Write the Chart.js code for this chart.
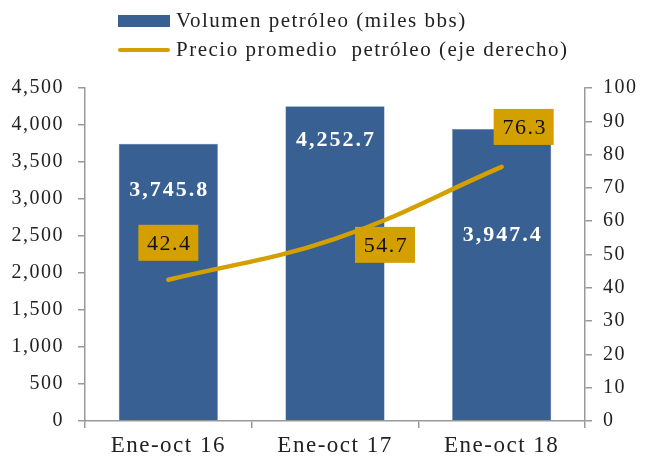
<!DOCTYPE html>
<html>
<head>
<meta charset="utf-8">
<script src="https://cdn.jsdelivr.net/npm/chart.js@4.4.1/dist/chart.umd.min.js"></script>
<style>
    html, body { margin: 0; padding: 0; background: #fff; }
    #wrap { position: relative; width: 650px; height: 461px; }
    #legend { position: absolute; left: 118px; top: 6px; font-family: 'Liberation Serif', serif; font-size: 21px; letter-spacing: 1.5px; color: #222; }
    .row { display: flex; align-items: center; height: 29px; }
    .swatch { width: 52px; margin-right: 6px; }
    .txt { white-space: pre; }
</style>
</head>
<body>
<div id="wrap">
    <canvas id="chart" width="650" height="461"></canvas>
    <div id="legend"></div>
</div>
<script>
const categories = ['Ene-oct 16', 'Ene-oct 17', 'Ene-oct 18'];
const volumen = [3745.8, 4252.7, 3947.4];
const precio = [42.4, 54.7, 76.3];
const volumenLabel = 'Volumen petróleo (miles bbs)';
const precioLabel = 'Precio promedio  petróleo (eje derecho)';

const BLUE = '#386092';
const GOLD = '#D4A000';
const FONT = "'Liberation Serif', serif";

// label offsets from the bar top / line point
const barLabelDy = [47, 34, 106];
const lineLabelOffset = [[0, -37], [50, 6], [22, -40]];

const fmt = (v, d) => v.toLocaleString('en-US', { minimumFractionDigits: d, maximumFractionDigits: d });

// Garamond in the original runs wider than Liberation Serif
const spacing = {
    id: 'spacing',
    beforeDraw: (chart) => { chart.ctx.letterSpacing = '1.5px'; }
};

const valueLabels = {
    id: 'valueLabels',
    afterDatasetsDraw: (chart) => {
        const ctx = chart.ctx;
        ctx.save();
        ctx.textAlign = 'center';
        ctx.textBaseline = 'middle';

        // bar values, white bold
        ctx.font = 'bold 22px ' + FONT;
        ctx.letterSpacing = '2px';
        ctx.fillStyle = '#fff';
        chart.getDatasetMeta(0).data.forEach((bar, i) => {
            ctx.fillText(fmt(volumen[i], 1), bar.x + 1, bar.y + barLabelDy[i]);
        });

        // line values in gold boxes
        ctx.font = '22px ' + FONT;
        ctx.letterSpacing = '1.5px';
        chart.getDatasetMeta(1).data.forEach((pt, i) => {
            const cx = pt.x + lineLabelOffset[i][0];
            const cy = pt.y + lineLabelOffset[i][1];
            ctx.fillStyle = GOLD;
            ctx.fillRect(cx - 30, cy - 18, 60, 36);
            ctx.fillStyle = '#111';
            ctx.fillText(fmt(precio[i], 1), cx + 1, cy + 1);
        });
        ctx.restore();
    }
};

document.addEventListener('DOMContentLoaded', function () {
    const data = {
        labels: categories,
        datasets: [{
            type: 'bar',
            label: volumenLabel,
            data: volumen,
            backgroundColor: BLUE,
            borderColor: '#5a7fae',
            borderWidth: 0.5,
            yAxisID: 'y',
            order: 2,
            categoryPercentage: 1,
            barPercentage: 0.595
        }, {
            type: 'line',
            label: precioLabel,
            data: precio,
            borderColor: GOLD,
            borderWidth: 4.5,
            borderCapStyle: 'round',
            pointRadius: 0,
            tension: 0.4,
            yAxisID: 'y1',
            order: 1
        }]
    };

    const axisColor = '#999';
    const tickFont = { family: FONT, size: 20 };

    const config = {
        data: data,
        options: {
            responsive: false,
            animation: false,
            layout: { padding: { top: 88, left: 0, right: 0, bottom: 0 } },
            plugins: {
                legend: { display: false },
                tooltip: { enabled: false }
            },
            scales: {
                x: {
                    offset: true,
                    grid: { offset: true, drawOnChartArea: false, drawTicks: true, tickLength: 7, color: axisColor, lineWidth: 1.5 },
                    border: { color: axisColor, width: 1.5 },
                    ticks: { font: { family: FONT, size: 23 }, color: '#222', padding: 4 },
                    afterFit: (s) => { s.height = 40; }
                },
                y: {
                    position: 'left',
                    min: 0,
                    max: 4500,
                    grid: { drawOnChartArea: false, tickLength: 7, color: axisColor, lineWidth: 1.5 },
                    border: { color: axisColor, width: 1.5 },
                    ticks: { stepSize: 500, font: tickFont, color: '#222', padding: 14, callback: (v) => fmt(v, 0) },
                    afterFit: (s) => { s.width = 85; }
                },
                y1: {
                    position: 'right',
                    min: 0,
                    max: 100,
                    grid: { drawOnChartArea: false, tickLength: 7, color: axisColor, lineWidth: 1.5 },
                    border: { color: axisColor, width: 1.5 },
                    ticks: { stepSize: 10, font: tickFont, color: '#222', padding: 11 },
                    afterFit: (s) => { s.width = 65; }
                }
            }
        },
        plugins: [spacing, valueLabels]
    };

    const chart = new Chart(document.getElementById('chart'), config);

    // legend, stacked in two rows like the original
    const legend = document.getElementById('legend');
    chart.data.datasets.forEach((ds) => {
        const row = document.createElement('div');
        row.className = 'row';
        const sw = document.createElement('span');
        sw.className = 'swatch';
        if (ds.type === 'bar') {
            sw.style.height = '12px';
            sw.style.background = ds.backgroundColor;
        } else {
            sw.style.height = '4px';
            sw.style.borderRadius = '2px';
            sw.style.background = ds.borderColor;
        }
        const t = document.createElement('span');
        t.className = 'txt';
        t.textContent = ds.label;
        row.appendChild(sw);
        row.appendChild(t);
        legend.appendChild(row);
    });
});
</script>
</body>
</html>
